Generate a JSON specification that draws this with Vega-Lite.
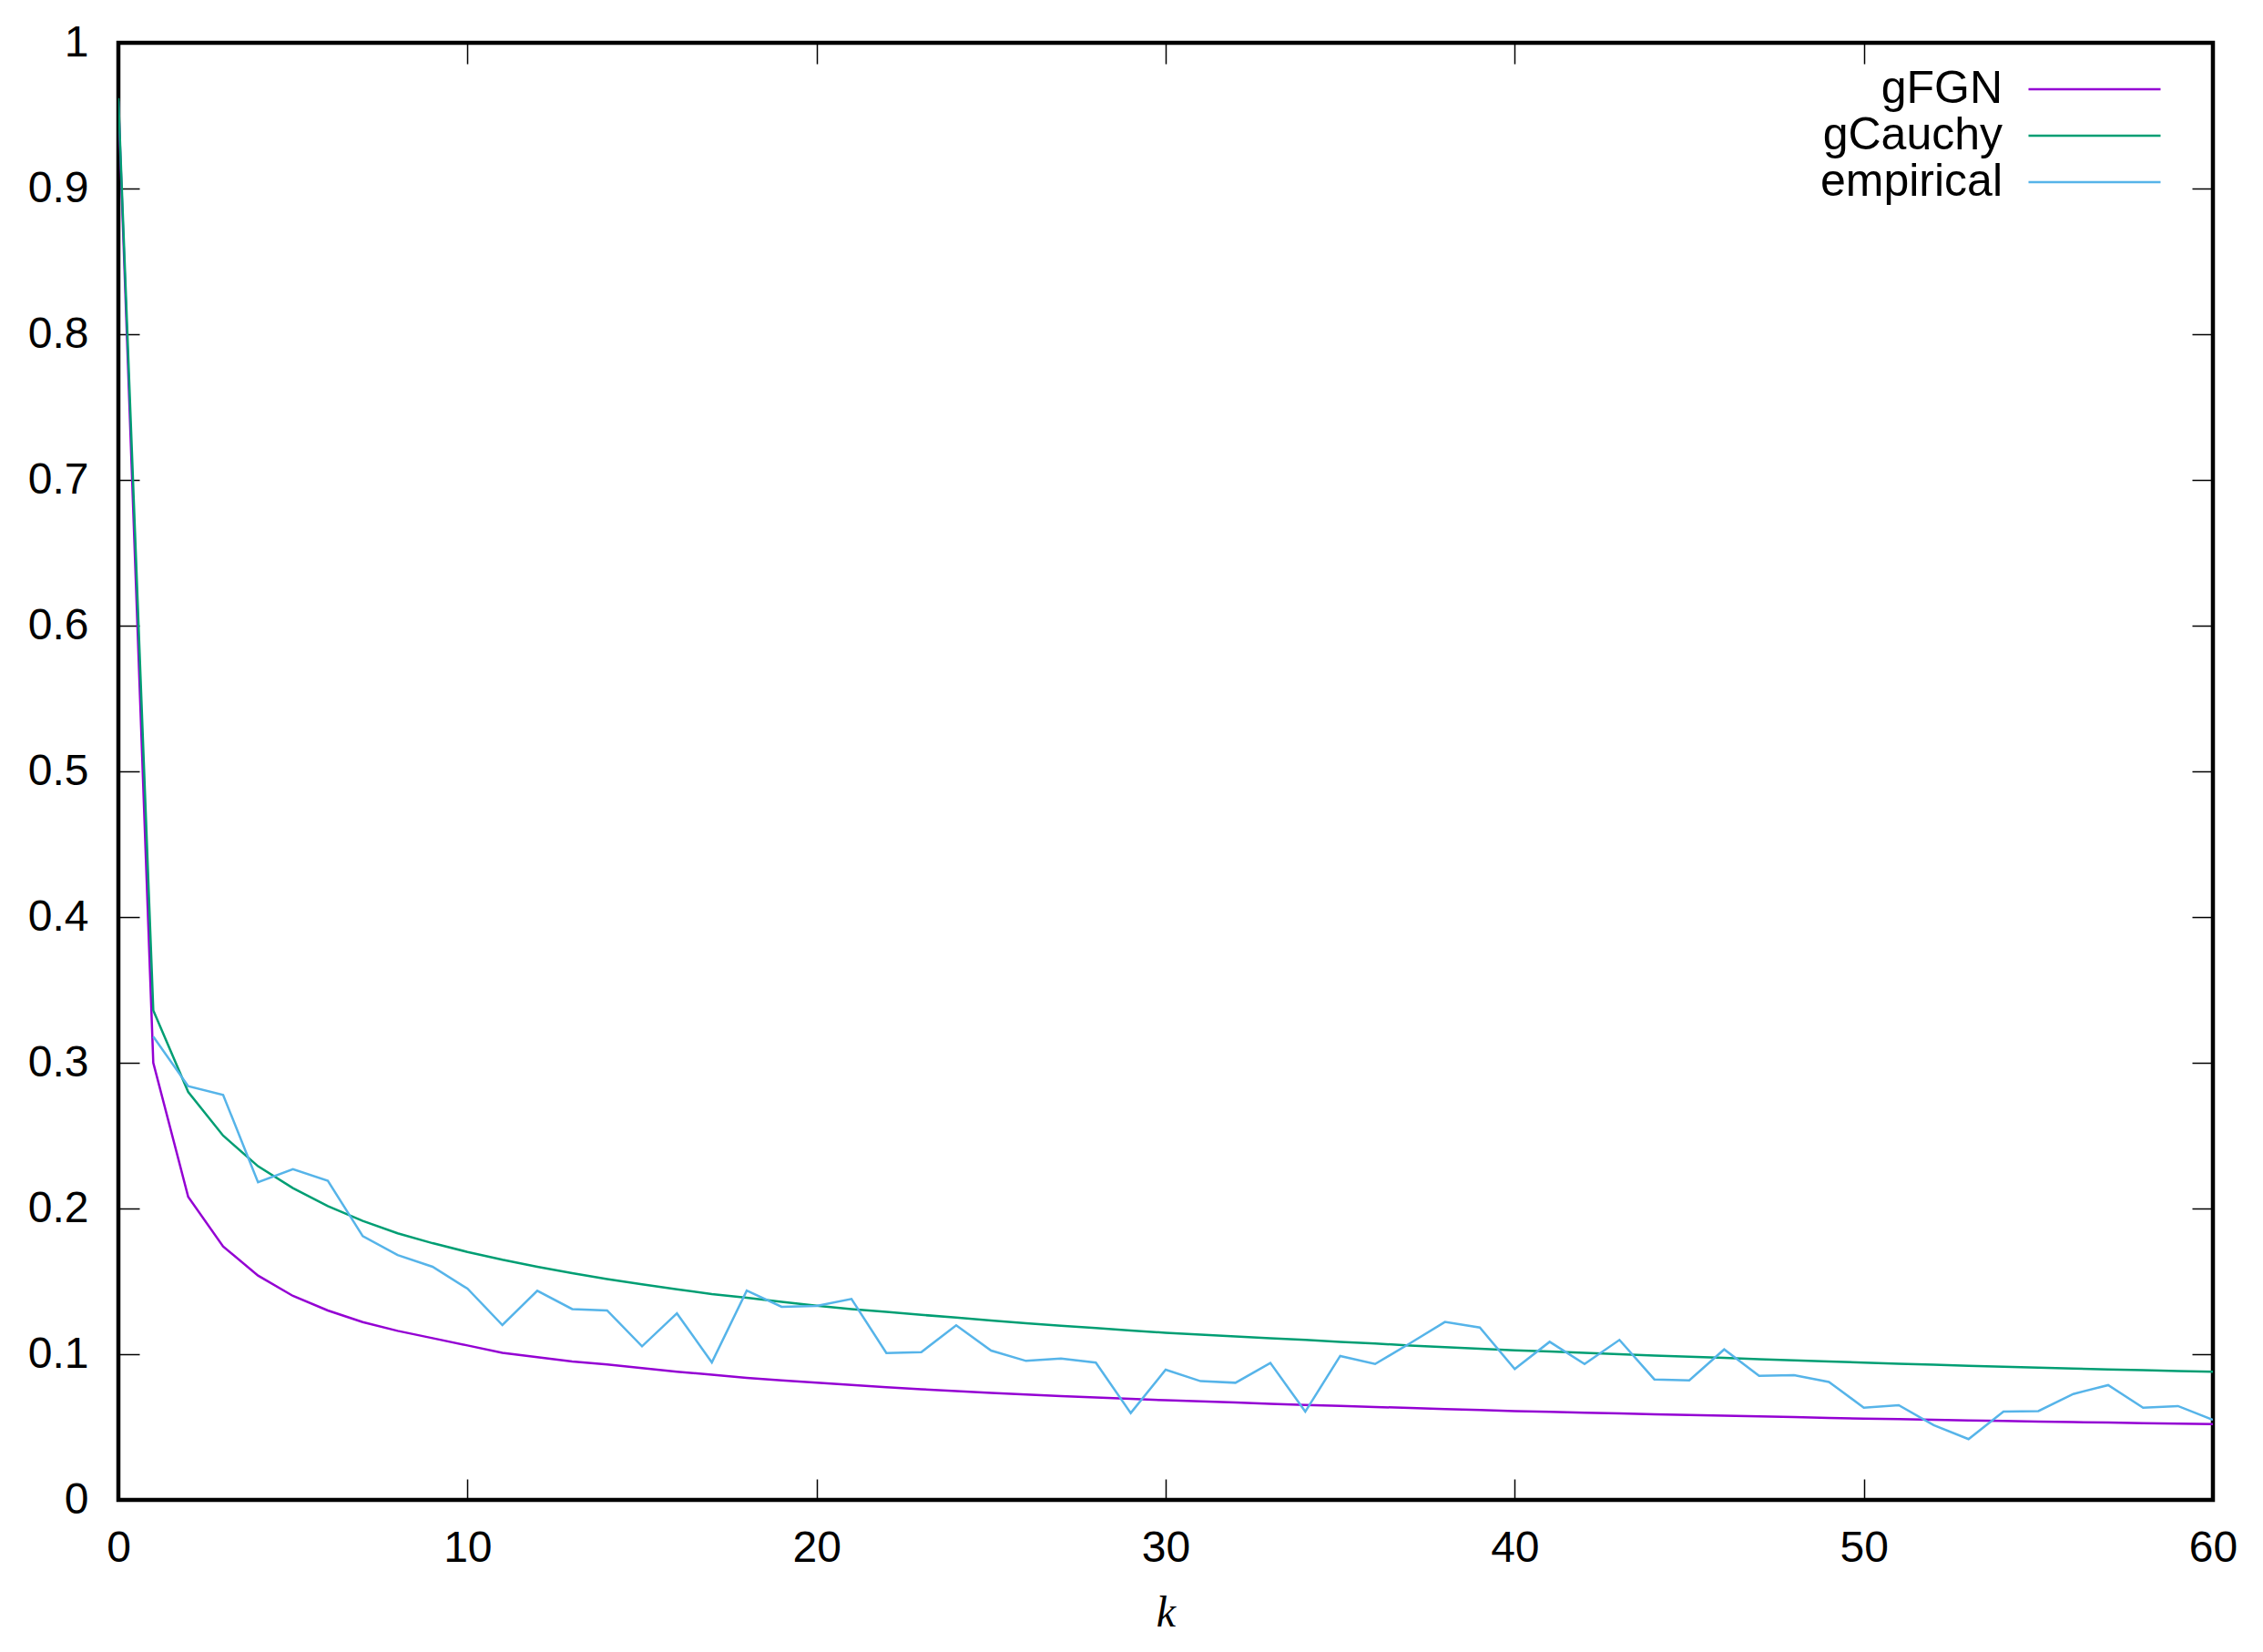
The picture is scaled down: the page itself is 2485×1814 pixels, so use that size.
{
  "$schema": "https://vega.github.io/schema/vega-lite/v6.json",
  "width": 2300,
  "height": 1600,
  "autosize": {"type": "none"},
  "padding": {"left": 130, "top": 47, "right": 55, "bottom": 167},
  "background": "white",
  "config": {
    "view": {"stroke": "black", "strokeWidth": 4.5},
    "font": "Liberation Sans",
    "axis": {
      "domain": false,
      "grid": false,
      "tickColor": "black",
      "tickWidth": 1.5,
      "tickSize": -23,
      "labelFont": "Liberation Sans",
      "labelFontSize": 48,
      "labelColor": "black",
      "labelFlush": false,
      "labelOverlap": false
    }
  },
  "data": {
    "values": [
      {"k":0,"s":"gFGN","v":0.96},{"k":1,"s":"gFGN","v":0.300},{"k":2,"s":"gFGN","v":0.208},{"k":3,"s":"gFGN","v":0.174},{"k":4,"s":"gFGN","v":0.154},{"k":5,"s":"gFGN","v":0.140},{"k":6,"s":"gFGN","v":0.130},{"k":7,"s":"gFGN","v":0.122},{"k":8,"s":"gFGN","v":0.116},{"k":9,"s":"gFGN","v":0.111},{"k":10,"s":"gFGN","v":0.106},
      {"k":11,"s":"gFGN","v":0.101},{"k":12,"s":"gFGN","v":0.098},{"k":13,"s":"gFGN","v":0.095},{"k":14,"s":"gFGN","v":0.093},{"k":15,"s":"gFGN","v":0.0905},{"k":16,"s":"gFGN","v":0.088},{"k":17,"s":"gFGN","v":0.086},{"k":18,"s":"gFGN","v":0.0838},{"k":19,"s":"gFGN","v":0.082},{"k":20,"s":"gFGN","v":0.0804},
      {"k":21,"s":"gFGN","v":0.0789},{"k":22,"s":"gFGN","v":0.0774},{"k":23,"s":"gFGN","v":0.076},{"k":24,"s":"gFGN","v":0.0747},{"k":25,"s":"gFGN","v":0.0735},{"k":26,"s":"gFGN","v":0.0724},{"k":27,"s":"gFGN","v":0.0713},{"k":28,"s":"gFGN","v":0.0703},{"k":29,"s":"gFGN","v":0.0693},{"k":30,"s":"gFGN","v":0.0684},
      {"k":31,"s":"gFGN","v":0.0676},{"k":32,"s":"gFGN","v":0.0668},{"k":33,"s":"gFGN","v":0.066},{"k":34,"s":"gFGN","v":0.0652},{"k":35,"s":"gFGN","v":0.0645},{"k":36,"s":"gFGN","v":0.0638},{"k":37,"s":"gFGN","v":0.0631},{"k":38,"s":"gFGN","v":0.0624},{"k":39,"s":"gFGN","v":0.0617},{"k":40,"s":"gFGN","v":0.061},
      {"k":41,"s":"gFGN","v":0.0605},{"k":42,"s":"gFGN","v":0.0599},{"k":43,"s":"gFGN","v":0.0594},{"k":44,"s":"gFGN","v":0.0588},{"k":45,"s":"gFGN","v":0.0583},{"k":46,"s":"gFGN","v":0.0578},{"k":47,"s":"gFGN","v":0.0573},{"k":48,"s":"gFGN","v":0.0568},{"k":49,"s":"gFGN","v":0.0563},{"k":50,"s":"gFGN","v":0.0558},
      {"k":51,"s":"gFGN","v":0.0554},{"k":52,"s":"gFGN","v":0.055},{"k":53,"s":"gFGN","v":0.0546},{"k":54,"s":"gFGN","v":0.0542},{"k":55,"s":"gFGN","v":0.0538},{"k":56,"s":"gFGN","v":0.0534},{"k":57,"s":"gFGN","v":0.0531},{"k":58,"s":"gFGN","v":0.0527},{"k":59,"s":"gFGN","v":0.0524},{"k":60,"s":"gFGN","v":0.0521},
      {"k":0,"s":"gCauchy","v":0.962},{"k":1,"s":"gCauchy","v":0.336},{"k":2,"s":"gCauchy","v":0.28},{"k":3,"s":"gCauchy","v":0.25},{"k":4,"s":"gCauchy","v":0.229},{"k":5,"s":"gCauchy","v":0.214},{"k":6,"s":"gCauchy","v":0.2016},{"k":7,"s":"gCauchy","v":0.1915},{"k":8,"s":"gCauchy","v":0.183},{"k":9,"s":"gCauchy","v":0.1762},{"k":10,"s":"gCauchy","v":0.1702},
      {"k":11,"s":"gCauchy","v":0.1648},{"k":12,"s":"gCauchy","v":0.16},{"k":13,"s":"gCauchy","v":0.1556},{"k":14,"s":"gCauchy","v":0.1516},{"k":15,"s":"gCauchy","v":0.148},{"k":16,"s":"gCauchy","v":0.1446},{"k":17,"s":"gCauchy","v":0.1413},{"k":18,"s":"gCauchy","v":0.1388},{"k":19,"s":"gCauchy","v":0.136},{"k":20,"s":"gCauchy","v":0.1333},
      {"k":21,"s":"gCauchy","v":0.131},{"k":22,"s":"gCauchy","v":0.129},{"k":23,"s":"gCauchy","v":0.127},{"k":24,"s":"gCauchy","v":0.1252},{"k":25,"s":"gCauchy","v":0.1232},{"k":26,"s":"gCauchy","v":0.1213},{"k":27,"s":"gCauchy","v":0.1195},{"k":28,"s":"gCauchy","v":0.118},{"k":29,"s":"gCauchy","v":0.1162},{"k":30,"s":"gCauchy","v":0.1147},
      {"k":31,"s":"gCauchy","v":0.1135},{"k":32,"s":"gCauchy","v":0.1122},{"k":33,"s":"gCauchy","v":0.111},{"k":34,"s":"gCauchy","v":0.1098},{"k":35,"s":"gCauchy","v":0.1085},{"k":36,"s":"gCauchy","v":0.1073},{"k":37,"s":"gCauchy","v":0.106},{"k":38,"s":"gCauchy","v":0.1048},{"k":39,"s":"gCauchy","v":0.1038},{"k":40,"s":"gCauchy","v":0.1027},
      {"k":41,"s":"gCauchy","v":0.1018},{"k":42,"s":"gCauchy","v":0.1009},{"k":43,"s":"gCauchy","v":0.1},{"k":44,"s":"gCauchy","v":0.0991},{"k":45,"s":"gCauchy","v":0.0983},{"k":46,"s":"gCauchy","v":0.0975},{"k":47,"s":"gCauchy","v":0.0966},{"k":48,"s":"gCauchy","v":0.0958},{"k":49,"s":"gCauchy","v":0.095},{"k":50,"s":"gCauchy","v":0.0942},
      {"k":51,"s":"gCauchy","v":0.0935},{"k":52,"s":"gCauchy","v":0.0928},{"k":53,"s":"gCauchy","v":0.0921},{"k":54,"s":"gCauchy","v":0.0914},{"k":55,"s":"gCauchy","v":0.0908},{"k":56,"s":"gCauchy","v":0.0902},{"k":57,"s":"gCauchy","v":0.0896},{"k":58,"s":"gCauchy","v":0.089},{"k":59,"s":"gCauchy","v":0.0885},{"k":60,"s":"gCauchy","v":0.0879},
      {"k":1,"s":"empirical","v":0.318},{"k":2,"s":"empirical","v":0.284},{"k":3,"s":"empirical","v":0.278},{"k":4,"s":"empirical","v":0.218},{"k":5,"s":"empirical","v":0.227},{"k":6,"s":"empirical","v":0.219},{"k":7,"s":"empirical","v":0.181},{"k":8,"s":"empirical","v":0.168},{"k":9,"s":"empirical","v":0.16},{"k":10,"s":"empirical","v":0.145},
      {"k":11,"s":"empirical","v":0.12},{"k":12,"s":"empirical","v":0.1435},{"k":13,"s":"empirical","v":0.131},{"k":14,"s":"empirical","v":0.13},{"k":15,"s":"empirical","v":0.1054},{"k":16,"s":"empirical","v":0.128},{"k":17,"s":"empirical","v":0.0944},{"k":18,"s":"empirical","v":0.1437},{"k":19,"s":"empirical","v":0.1325},{"k":20,"s":"empirical","v":0.1331},
      {"k":21,"s":"empirical","v":0.1379},{"k":22,"s":"empirical","v":0.1008},{"k":23,"s":"empirical","v":0.1014},{"k":24,"s":"empirical","v":0.1198},{"k":25,"s":"empirical","v":0.1025},{"k":26,"s":"empirical","v":0.0954},{"k":27,"s":"empirical","v":0.0971},{"k":28,"s":"empirical","v":0.0942},{"k":29,"s":"empirical","v":0.0596},{"k":30,"s":"empirical","v":0.0894},
      {"k":31,"s":"empirical","v":0.0815},{"k":32,"s":"empirical","v":0.0804},{"k":33,"s":"empirical","v":0.094},{"k":34,"s":"empirical","v":0.0606},{"k":35,"s":"empirical","v":0.0988},{"k":36,"s":"empirical","v":0.0933},{"k":37,"s":"empirical","v":0.1075},{"k":38,"s":"empirical","v":0.1221},{"k":39,"s":"empirical","v":0.1183},{"k":40,"s":"empirical","v":0.0898},
      {"k":41,"s":"empirical","v":0.1085},{"k":42,"s":"empirical","v":0.0933},{"k":43,"s":"empirical","v":0.1098},{"k":44,"s":"empirical","v":0.0827},{"k":45,"s":"empirical","v":0.0821},{"k":46,"s":"empirical","v":0.1033},{"k":47,"s":"empirical","v":0.0852},{"k":48,"s":"empirical","v":0.0856},{"k":49,"s":"empirical","v":0.081},{"k":50,"s":"empirical","v":0.0633},
      {"k":51,"s":"empirical","v":0.065},{"k":52,"s":"empirical","v":0.0513},{"k":53,"s":"empirical","v":0.0417},{"k":54,"s":"empirical","v":0.0606},{"k":55,"s":"empirical","v":0.061},{"k":56,"s":"empirical","v":0.0727},{"k":57,"s":"empirical","v":0.0788},{"k":58,"s":"empirical","v":0.0633},{"k":59,"s":"empirical","v":0.0644},{"k":60,"s":"empirical","v":0.055}
    ]
  },
  "encoding": {
    "color": {
      "field": "s",
      "type": "nominal",
      "scale": {"domain": ["gFGN", "gCauchy", "empirical"], "range": ["#9400D3", "#009E73", "#56B4E9"]},
      "legend": {
        "title": null,
        "orient": "none",
        "legendX": 2145,
        "legendY": 26,
        "padding": 0,
        "symbolType": "M-5,0H5",
        "symbolSize": 841,
        "symbolStrokeWidth": 2.5,
        "symbolFillColor": "transparent",
        "rowPadding": 1,
        "labelAlign": "right",
        "labelOffset": -126,
        "labelFont": "Liberation Sans",
        "labelFontSize": 50,
        "labelColor": "black",
        "labelLimit": 0
      }
    }
  },
  "layer": [
    {
      "transform": [{"filter": "datum.s === 'gFGN'"}],
      "mark": {"type": "line", "strokeWidth": 2.5, "clip": true},
      "encoding": {
        "x": {"field": "k", "type": "quantitative", "scale": {"domain": [0, 60], "nice": false, "zero": false},
              "axis": {"orient": "bottom", "values": [0,10,20,30,40,50,60], "labelPadding": 52, "labelDx": 8,
                       "title": "k", "titleFont": "Liberation Serif", "titleFontStyle": "italic", "titleFontWeight": "normal", "titleFontSize": 48, "titlePadding": 23, "titleColor": "black"}},
        "y": {"field": "v", "type": "quantitative", "scale": {"domain": [0, 1], "nice": false},
              "axis": {"orient": "left", "values": [0,0.1,0.2,0.3,0.4,0.5,0.6,0.7,0.8,0.9,1], "format": "~g", "labelPadding": 56, "title": null}}
      }
    },
    {
      "transform": [{"filter": "datum.s === 'gCauchy'"}],
      "mark": {"type": "line", "strokeWidth": 2.5, "clip": true},
      "encoding": {
        "x": {"field": "k", "type": "quantitative",
              "axis": {"orient": "top", "values": [0,10,20,30,40,50,60], "labels": false, "title": null}},
        "y": {"field": "v", "type": "quantitative",
              "axis": {"orient": "right", "values": [0,0.1,0.2,0.3,0.4,0.5,0.6,0.7,0.8,0.9,1], "labels": false, "title": null}}
      }
    },
    {
      "transform": [{"filter": "datum.s === 'empirical'"}],
      "mark": {"type": "line", "strokeWidth": 2.5, "clip": true},
      "encoding": {
        "x": {"field": "k", "type": "quantitative", "axis": null},
        "y": {"field": "v", "type": "quantitative", "axis": null}
      }
    }
  ]
}
